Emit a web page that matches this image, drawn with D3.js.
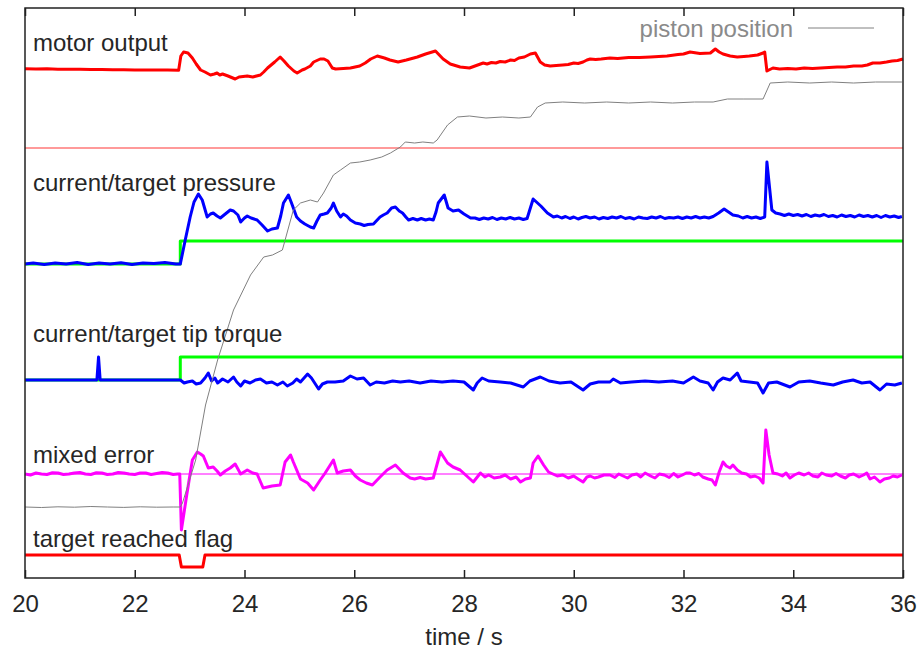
<!DOCTYPE html>
<html>
<head>
<meta charset="utf-8">
<script src="https://cdn.jsdelivr.net/npm/d3@7/dist/d3.min.js"></script>
<style>
  body { margin: 0; background: #fff; }
  svg text { font-family: "Liberation Sans", Arial, sans-serif; }
</style>
</head>
<body>
<svg id="chart"></svg>
<script>
// ---- data (time in s, values in plot units, each trace relative to its own zero) ----
const timeTicks = [20, 22, 24, 26, 28, 30, 32, 34, 36];

const traceLabels = ["motor output", "current/target pressure", "current/target tip torque", "mixed error", "target reached flag"];
const traceZeros = [43.0, 31.4, 19.8, 10.4, 1.1];
const labelLift = [9.7, 7.3, 3.8, 1.1, 2.0];
const flagGain = 1.2;

const motorOutput = [[20.00,7.93],[20.20,7.90],[20.40,7.92],[20.60,7.88],[20.80,7.87],[21.00,7.88],[21.20,7.85],[21.40,7.84],[21.60,7.82],[21.80,7.83],[22.00,7.80],[22.20,7.81],[22.40,7.80],[22.60,7.79],[22.80,7.77],
  [22.84,9.2],[22.89,9.6],[22.97,9.5],[23.05,9.0],[23.12,8.4],[23.20,7.8],[23.28,7.6],[23.38,7.3],[23.45,7.4],[23.50,7.5],[23.55,7.3],[23.60,7.4],[23.70,7.2],[23.83,6.9],[23.90,7.1],[24.05,7.2],[24.15,7.1],[24.29,7.3],[24.35,7.6],[24.42,8.0],[24.55,8.6],[24.65,9.1],[24.72,8.7],[24.80,8.2],[24.90,7.7],[24.96,7.5],[25.05,7.8],[25.10,7.9],[25.20,8.2],[25.26,8.6],[25.38,8.9],[25.45,8.9],[25.52,8.7],[25.60,8.0],[25.66,7.9],[25.80,7.95],[25.93,8.0],[26.10,8.2],[26.20,8.5],[26.30,8.9],[26.42,9.2],[26.55,9.0],[26.65,8.8],[26.80,8.6],[26.95,8.8],[27.15,9.1],[27.30,9.4],[27.48,9.7],[27.55,9.3],[27.62,8.9],[27.75,8.4],[27.93,8.1],[28.10,8.0],[28.25,8.3],[28.35,8.5],[28.42,8.4],[28.50,8.55],[28.58,8.5],[28.66,8.65],[28.75,8.6],[28.85,8.8],[28.92,8.75],[29.00,9.0],[29.10,9.1],[29.21,9.4],[29.30,9.5],[29.39,8.6],[29.47,8.3],[29.57,8.2],[29.68,8.25],[29.80,8.3],[29.90,8.35],[30.00,8.5],[30.08,8.45],[30.17,8.6],[30.24,8.8],[30.30,8.9],[30.40,8.85],[30.50,8.9],[30.58,8.95],[30.66,9.0],[30.80,8.95],[31.00,9.05],[31.20,9.05],[31.40,9.1],[31.55,9.15],[31.70,9.2],[31.90,9.35],[32.00,9.4],[32.12,9.6],[32.30,9.45],[32.49,9.5],[32.58,9.9],[32.65,9.6],[32.72,9.4],[32.85,9.2],[32.98,9.1],[33.10,9.15],[33.20,9.2],[33.35,9.3],[33.45,9.5],[33.48,9.6],[33.52,7.7],[33.63,8.0],[33.75,7.9],[33.90,7.95],[34.05,7.9],[34.20,8.0],[34.35,7.95],[34.50,8.0],[34.65,8.05],[34.80,8.1],[34.95,8.1],[35.10,8.2],[35.25,8.2],[35.35,8.3],[35.45,8.5],[35.58,8.5],[35.70,8.6],[35.80,8.7],[35.90,8.75],[36.00,8.9]];

const pistonPosition = [[20.00,7.10],[20.30,7.05],[20.60,7.12],[20.90,7.08],[21.20,7.15],[21.50,7.10],[21.80,7.06],[22.10,7.12],[22.40,7.08],[22.70,7.10],[22.83,7.10],[22.87,7.5],[23.11,11.8],[23.29,17.3],[23.51,21.8],[23.80,26.8],[24.11,30.3],[24.35,32.1],[24.51,32.3],[24.69,32.8],[24.89,36.8],[25.02,37.5],[25.20,37.8],[25.33,37.6],[25.44,38.5],[25.62,40.3],[25.75,40.8],[25.93,41.5],[26.10,41.6],[26.29,41.8],[26.50,42.1],[26.66,42.5],[26.84,43.1],[26.93,43.6],[27.10,43.5],[27.25,43.6],[27.44,43.5],[27.51,43.8],[27.70,45.3],[27.88,46.1],[28.10,46.2],[28.40,46.0],[28.70,46.1],[29.00,46.0],[29.21,46.1],[29.34,47.1],[29.48,47.5],[29.80,47.6],[30.20,47.5],[30.60,47.6],[31.00,47.5],[31.40,47.6],[31.80,47.5],[32.20,47.6],[32.54,47.6],[32.80,47.9],[33.10,47.9],[33.45,47.9],[33.58,49.5],[33.90,49.6],[34.30,49.5],[34.70,49.6],[35.10,49.5],[35.50,49.6],[35.98,49.6]];

const pressureCurrent = [[20.00,0],[20.15,0.1],[20.35,-0.05],[20.55,0.1],[20.75,0],[20.95,0.15],[21.15,-0.05],[21.35,0.1],[21.55,0],[21.75,0.12],[21.95,-0.05],[22.15,0.1],[22.35,0.05],[22.55,0.15],[22.75,0],[22.83,0],
  [22.92,2.4],[23.01,4.7],[23.08,6.2],[23.16,7.0],[23.23,6.4],[23.32,4.7],[23.38,5.0],[23.43,5.1],[23.50,4.8],[23.56,4.6],[23.65,5.0],[23.74,5.4],[23.80,5.3],[23.88,4.9],[23.93,4.2],[24.00,4.6],[24.05,4.8],[24.12,4.6],[24.23,4.4],[24.32,3.9],[24.42,3.3],[24.50,3.5],[24.60,3.6],[24.66,4.8],[24.71,6.1],[24.80,6.9],[24.85,6.2],[24.89,5.6],[24.95,4.7],[25.02,4.3],[25.10,4.0],[25.20,3.7],[25.26,3.6],[25.32,4.3],[25.38,4.9],[25.45,5.0],[25.51,5.1],[25.58,5.6],[25.62,6.1],[25.68,5.3],[25.75,4.7],[25.80,5.0],[25.86,4.8],[25.93,4.4],[26.02,4.1],[26.11,4.0],[26.18,3.85],[26.25,3.95],[26.35,4.0],[26.47,4.7],[26.53,4.9],[26.60,5.1],[26.68,5.6],[26.75,5.7],[26.82,5.3],[26.88,5.1],[26.94,4.7],[26.99,4.4],[27.07,4.55],[27.15,4.4],[27.22,4.55],[27.30,4.4],[27.37,4.5],[27.44,4.4],[27.49,5.2],[27.53,6.1],[27.64,6.9],[27.71,5.6],[27.80,5.3],[27.90,5.4],[28.00,5.0],[28.12,4.6],[28.20,4.6],[28.28,4.45],[28.36,4.6],[28.44,4.5],[28.52,4.65],[28.60,4.45],[28.68,4.6],[28.76,4.5],[28.84,4.65],[28.92,4.5],[29.00,4.6],[29.08,4.45],[29.15,4.55],
  [29.26,6.5],[29.40,5.8],[29.52,5.1],[29.63,4.7],[29.70,4.8],[29.78,4.6],[29.85,4.75],[29.93,4.55],[30.00,4.7],[30.08,4.5],[30.15,4.65],[30.22,4.75],[30.30,4.6],[30.38,4.7],[30.46,4.5],[30.54,4.65],[30.62,4.55],[30.70,4.7],[30.78,4.6],[30.86,4.75],[30.94,4.55],[31.02,4.65],[31.10,4.5],[31.18,4.7],[31.26,4.6],[31.34,4.55],[31.42,4.7],[31.50,4.6],[31.58,4.75],[31.66,4.55],[31.74,4.65],[31.82,4.6],[31.90,4.7],[31.98,4.55],[32.06,4.7],[32.14,4.6],[32.22,4.75],[32.30,4.6],[32.38,4.7],[32.46,4.6],[32.54,4.75],[32.64,5.1],[32.74,5.5],[32.82,5.2],[32.90,4.9],[33.00,4.8],[33.08,4.6],[33.16,4.75],[33.24,4.6],[33.32,4.7],[33.40,4.55],[33.48,4.7],[33.52,10.2],[33.61,5.4],[33.68,5.1],[33.76,5.0],[33.84,4.85],[33.92,5.0],[34.00,4.85],[34.08,4.95],[34.16,4.8],[34.24,4.95],[34.32,4.75],[34.40,4.9],[34.48,4.8],[34.56,4.95],[34.64,4.75],[34.72,4.85],[34.80,4.7],[34.88,4.9],[34.96,4.75],[35.04,4.85],[35.12,4.7],[35.20,4.9],[35.28,4.75],[35.36,4.85],[35.44,4.7],[35.52,4.85],[35.60,4.65],[35.68,4.85],[35.76,4.7],[35.84,4.8],[35.92,4.65],[35.98,4.75]];

const pressureTarget = [[20.00,0],[22.83,0],[22.83,2.3],[36.00,2.3]];

const torqueCurrent = [[20.00,0],[21.31,0],[21.34,2.3],[21.37,0],[22.83,0],[22.90,-0.3],[22.96,-0.2],[23.05,-0.1],[23.12,-0.4],[23.20,-0.3],[23.28,0.2],[23.34,0.7],[23.40,-0.1],[23.46,0.2],[23.51,-0.3],[23.60,0.1],[23.70,-0.2],[23.80,0.3],[23.86,-0.2],[23.93,-0.6],[24.00,-0.1],[24.10,-0.3],[24.20,0],[24.29,0.1],[24.40,-0.3],[24.50,-0.2],[24.60,-0.5],[24.70,-0.2],[24.78,-0.6],[24.88,-0.3],[24.95,0.1],[25.02,-0.2],[25.15,0.6],[25.22,0.2],[25.35,-0.9],[25.42,-0.4],[25.51,-0.2],[25.65,-0.2],[25.80,-0.1],[25.93,0.4],[26.05,0.1],[26.17,0.2],[26.29,-0.5],[26.40,-0.2],[26.55,-0.3],[26.70,-0.1],[26.84,-0.2],[27.00,-0.1],[27.20,-0.3],[27.40,-0.1],[27.60,-0.2],[27.80,-0.1],[28.00,-0.2],[28.17,-1.0],[28.24,-0.3],[28.33,0.2],[28.45,-0.1],[28.66,-0.2],[28.85,-0.3],[29.08,-0.7],[29.20,-0.1],[29.39,0.3],[29.55,-0.1],[29.75,-0.3],[29.95,-0.2],[30.17,-1.0],[30.30,-0.4],[30.45,-0.2],[30.66,-0.2],[30.72,0.1],[30.85,-0.3],[31.05,-0.2],[31.30,-0.1],[31.55,-0.2],[31.80,-0.1],[32.00,-0.3],[32.18,0.3],[32.30,-0.1],[32.45,-0.3],[32.54,-1.0],[32.62,-0.2],[32.72,0.2],[32.85,0],[32.98,0.7],[33.05,-0.1],[33.20,-0.2],[33.35,-0.3],[33.45,-1.3],[33.55,-0.3],[33.70,-0.2],[33.94,-0.7],[34.10,-0.2],[34.30,-0.1],[34.50,-0.3],[34.73,-0.5],[34.90,-0.2],[35.09,0],[35.25,-0.3],[35.40,-0.2],[35.58,-1.0],[35.70,-0.4],[35.85,-0.5],[35.98,-0.3]];

const torqueTarget = [[20.00,0],[22.83,0],[22.83,2.3],[36.00,2.3]];

const mixedError = [[20.00,0],[20.10,-0.1],[20.20,0.1],[20.30,0],[20.40,-0.05],[20.50,0.12],[20.60,0.1],[20.70,-0.05],[20.80,0],[20.90,0.1],[21.00,0.15],[21.10,0],[21.20,-0.05],[21.30,0.12],[21.40,0.1],[21.50,-0.05],[21.60,0],[21.70,0.15],[21.80,0.1],[21.90,0],[22.00,-0.05],[22.10,0.1],[22.20,0.1],[22.30,-0.05],[22.40,0.05],[22.50,0.15],[22.60,0.1],[22.70,-0.05],[22.78,0],[22.82,0],
  [22.85,-5.6],[22.95,-2.0],[23.05,1.4],[23.14,2.2],[23.20,2.0],[23.25,1.8],[23.34,0.6],[23.43,0.7],[23.50,0.3],[23.56,-0.1],[23.65,0.3],[23.74,0.6],[23.83,1.0],[23.93,0],[24.05,0.4],[24.15,0.1],[24.23,0],[24.34,-1.4],[24.50,-1.2],[24.65,-1.1],[24.74,1.2],[24.84,1.9],[24.89,1.2],[25.02,-0.5],[25.15,-0.9],[25.26,-1.6],[25.38,-0.6],[25.47,0.1],[25.62,1.4],[25.69,0.1],[25.80,0.3],[25.93,0.4],[26.02,-0.2],[26.11,-0.6],[26.22,-0.9],[26.33,-1.1],[26.47,-0.3],[26.60,0.4],[26.75,0.9],[26.89,0.1],[27.02,-0.4],[27.10,-0.5],[27.20,-0.35],[27.30,-0.5],[27.44,-0.4],[27.57,2.2],[27.70,1.1],[27.80,0.7],[27.93,0.4],[28.05,-0.2],[28.17,-0.8],[28.30,0.1],[28.38,-0.3],[28.45,-0.1],[28.55,-0.4],[28.66,-0.3],[28.75,-0.1],[28.85,-0.5],[28.95,-0.3],[29.03,-0.8],[29.12,-0.5],[29.21,-0.4],[29.26,1.1],[29.35,1.8],[29.45,0.9],[29.54,0.2],[29.62,0],[29.70,-0.2],[29.80,-0.1],[29.90,-0.4],[30.00,-0.2],[30.08,-0.5],[30.17,-0.8],[30.24,-0.3],[30.30,-0.2],[30.38,-0.4],[30.45,-0.3],[30.55,-0.1],[30.66,-0.1],[30.75,-0.35],[30.82,0],[30.90,-0.2],[30.98,-0.4],[31.06,-0.1],[31.15,0],[31.22,-0.3],[31.30,0.1],[31.40,-0.2],[31.48,-0.4],[31.56,0],[31.65,-0.1],[31.74,-0.35],[31.82,0.05],[31.90,-0.3],[31.98,-0.1],[32.05,0.1],[32.12,0.1],[32.20,-0.1],[32.28,0.05],[32.35,-0.3],[32.45,-0.5],[32.52,-0.6],[32.58,-1.1],[32.65,0.2],[32.72,1.2],[32.78,0.8],[32.85,0.6],[32.90,0.9],[32.98,0.4],[33.06,0.1],[33.15,0],[33.22,-0.3],[33.30,-0.2],[33.38,-0.4],[33.45,-0.9],[33.50,4.4],[33.56,1.9],[33.63,0.1],[33.72,0],[33.80,-0.2],[33.87,0.1],[33.94,-0.4],[34.02,-0.1],[34.10,0.1],[34.20,-0.1],[34.28,0.1],[34.36,-0.2],[34.45,-0.3],[34.52,0.1],[34.60,-0.1],[34.70,-0.2],[34.78,0.05],[34.86,-0.2],[34.95,-0.4],[35.02,-0.1],[35.10,0],[35.20,-0.3],[35.28,-0.1],[35.34,0.1],[35.40,-0.5],[35.48,-0.3],[35.58,-0.8],[35.66,-0.5],[35.75,-0.4],[35.82,-0.2],[35.90,-0.3],[35.98,-0.1]];

const targetFlag = [[20.00,1],[22.81,1],[22.85,0],[23.24,0],[23.28,1],[36.00,1]];

// ---- layout ----
const margin = {top: 8, right: 16, bottom: 74, left: 25},
    width = 919 - margin.left - margin.right,
    height = 652 - margin.top - margin.bottom;

const svg = d3.select("#chart")
    .attr("width", width + margin.left + margin.right)
    .attr("height", height + margin.top + margin.bottom)
    .append("g")
    .attr("transform", `translate(${margin.left},${margin.top})`);

const x = d3.scaleLinear().domain([20, 36]).range([0, width]);
const y = d3.scaleLinear().domain([0, 57]).range([height, 0]);

const line = (zero, gain = 1) => d3.line()
    .x(d => x(d[0]))
    .y(d => y(zero + gain * d[1]));

function trace(data, zero, color, w, gain) {
    svg.append("path")
        .datum(data)
        .attr("fill", "none")
        .attr("stroke", color)
        .attr("stroke-width", w)
        .attr("stroke-linejoin", "round")
        .attr("d", line(zero, gain));
}

function zeroLine(zero, color, w) {
    svg.append("line")
        .attr("x1", 0).attr("x2", width)
        .attr("y1", y(zero)).attr("y2", y(zero))
        .attr("stroke", color)
        .attr("stroke-width", w);
}

// motor output
zeroLine(traceZeros[0], "#ff7878", 1.5);
trace(motorOutput, traceZeros[0], "#ff0000", 3);

// pressure
trace(pressureTarget, traceZeros[1], "#00ff00", 3);
trace(pressureCurrent, traceZeros[1], "#0000ff", 3);

// tip torque
trace(torqueTarget, traceZeros[2], "#00ff00", 3);
trace(torqueCurrent, traceZeros[2], "#0000ff", 3);

// mixed error
zeroLine(traceZeros[3], "#ff00ff", 1);
trace(mixedError, traceZeros[3], "#ff00ff", 3);

// flag
trace(targetFlag, traceZeros[4], "#ff0000", 3, flagGain);

// piston position
trace(pistonPosition, 0, "#808080", 1);

// labels
svg.selectAll(".trace-label")
    .data(traceLabels)
    .join("text")
    .attr("class", "trace-label")
    .attr("x", 8)
    .attr("y", (d, i) => y(traceZeros[i] + labelLift[i]))
    .attr("fill", "#262626")
    .style("font-size", "24px")
    .text(d => d);

// legend
svg.append("text")
    .attr("x", 768)
    .attr("y", 29)
    .attr("text-anchor", "end")
    .attr("fill", "#8a8a8a")
    .style("font-size", "24px")
    .text("piston position");
svg.append("line")
    .attr("x1", 783).attr("x2", 849)
    .attr("y1", 20).attr("y2", 20)
    .attr("stroke", "#808080")
    .attr("stroke-width", 1);

// axes
const xAxis = svg.append("g")
    .attr("transform", `translate(0,${height})`)
    .call(d3.axisBottom(x).tickValues(timeTicks).tickFormat(d3.format("d"))
        .tickSizeInner(-8).tickSizeOuter(0).tickPadding(17));
xAxis.select(".domain").remove();
xAxis.selectAll("line").attr("stroke", "#222").attr("stroke-width", 1.5);
xAxis.selectAll("text")
    .style("font-size", "24px")
    .style("font-family", "Liberation Sans, Arial, sans-serif")
    .attr("fill", "#262626");

const topAxis = svg.append("g")
    .call(d3.axisTop(x).tickValues(timeTicks).tickFormat("")
        .tickSizeInner(-8).tickSizeOuter(0));
topAxis.select(".domain").remove();
topAxis.selectAll("line").attr("stroke", "#222").attr("stroke-width", 1.5);

svg.append("rect")
    .attr("width", width)
    .attr("height", height)
    .attr("fill", "none")
    .attr("stroke", "#222")
    .attr("stroke-width", 1.5);

svg.append("text")
    .attr("x", width / 2)
    .attr("y", height + 67)
    .attr("text-anchor", "middle")
    .attr("fill", "#262626")
    .style("font-size", "24px")
    .text("time / s");
</script>
</body>
</html>
